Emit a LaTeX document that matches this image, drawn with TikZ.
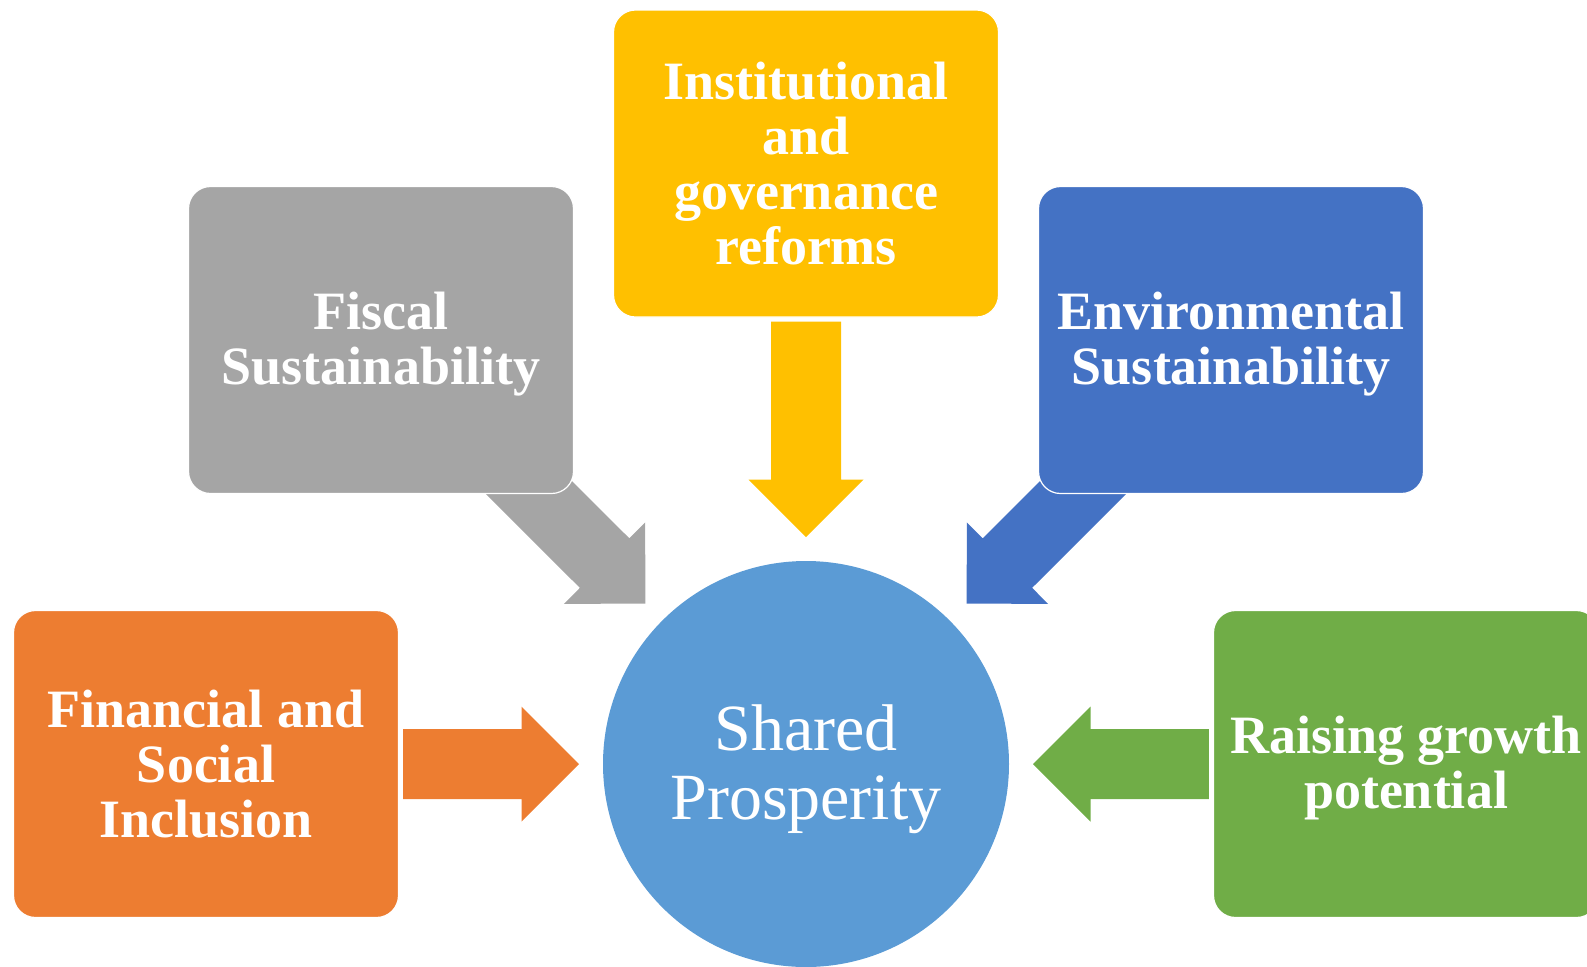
\documentclass[tikz,border=0pt]{standalone}
\usepackage{fontspec}
\setmainfont{Liberation Serif}
\usetikzlibrary{calc}

\pgfdeclarelayer{bg}
\pgfsetlayers{bg,main}

\definecolor{cInst}{HTML}{FFC000}
\definecolor{cFisc}{HTML}{A5A5A5}
\definecolor{cEnv}{HTML}{4472C4}
\definecolor{cFin}{HTML}{ED7D31}
\definecolor{cGrow}{HTML}{70AD47}
\definecolor{cHub}{HTML}{5B9BD5}

\tikzset{
  pillar/.style={fill=#1, draw=white, line width=0.6pt, rounded corners=11pt,
    minimum width=192.5pt, minimum height=153.5pt, inner sep=0pt},
  pillartext/.style={inner sep=0pt, align=center, text=white,
    font=\bfseries\fontsize{27}{27.5}\selectfont},
  hubnode/.style={circle, fill=cHub, minimum size=203pt, inner sep=0pt},
  hubtext/.style={inner sep=0pt, align=center, text=white,
    font=\fontsize{33}{34.5}\selectfont},
}

% block arrow: name, colour, tail coordinate, tip coordinate
\newcommand\blockarrow[4]{%
  \coordinate (#1-h) at ($(#4)!28.75pt!(#3)$);
  \fill[#2] ($(#3)!17.5pt!90:(#4)$) -- ($(#1-h)!17.5pt!90:(#4)$)
    -- ($(#1-h)!28.75pt!90:(#4)$) -- (#4)
    -- ($(#1-h)!28.75pt!-90:(#4)$) -- ($(#1-h)!17.5pt!-90:(#4)$)
    -- ($(#3)!17.5pt!-90:(#4)$) -- cycle;
}

\begin{document}
\begin{tikzpicture}[x=0.5pt, y=-0.5pt]
  \useasboundingbox (0,0) rectangle (1587,966);

  % centre
  \node[hubnode] (hub) at (806,764) {};
  \node[hubtext] (hub-txt) at ([yshift=-2.75pt]hub.center) {Shared\\Prosperity};

  % surrounding pillars
  \node[pillar=cInst] (inst) at (806,163.5) {};
  \node[pillar=cFisc] (fisc) at (381,340) {};
  \node[pillar=cEnv]  (env)  at (1231,340) {};
  \node[pillar=cFin]  (fin)  at (206,764) {};
  \node[pillar=cGrow] (grow) at (1406,764) {};

  \node[pillartext] (inst-txt) at (inst.center) {Institutional\\and\\governance\\reforms};
  \node[pillartext] (fisc-txt) at ([yshift=-2pt]fisc.center) {Fiscal\\Sustainability};
  \node[pillartext] (env-txt)  at ([yshift=-2pt]env.center) {Environmental\\Sustainability};
  \node[pillartext] (fin-txt)  at (fin.center) {Financial and\\Social\\Inclusion};
  \node[pillartext] (grow-txt) at ([yshift=-2pt]grow.center) {Raising growth\\potential};

  % arrow ends
  \coordinate (inst-s) at ($(inst.south)!2pt!(hub.center)$);
  \coordinate (fin-s)  at ($(fin.east)!2pt!(hub.center)$);
  \coordinate (grow-s) at ($(grow.west)!2pt!(hub.center)$);
  \foreach \b in {inst,fisc,env,fin,grow}
    \coordinate (\b-t) at ($(hub.center)!113.5pt!(\b.center)$);

  \begin{pgfonlayer}{bg}
    \blockarrow{a1}{cInst}{inst-s}{inst-t}
    \blockarrow{a2}{cFisc}{fisc.center}{fisc-t}
    \blockarrow{a3}{cEnv}{env.center}{env-t}
    \blockarrow{a4}{cFin}{fin-s}{fin-t}
    \blockarrow{a5}{cGrow}{grow-s}{grow-t}
  \end{pgfonlayer}
\end{tikzpicture}
\end{document}
